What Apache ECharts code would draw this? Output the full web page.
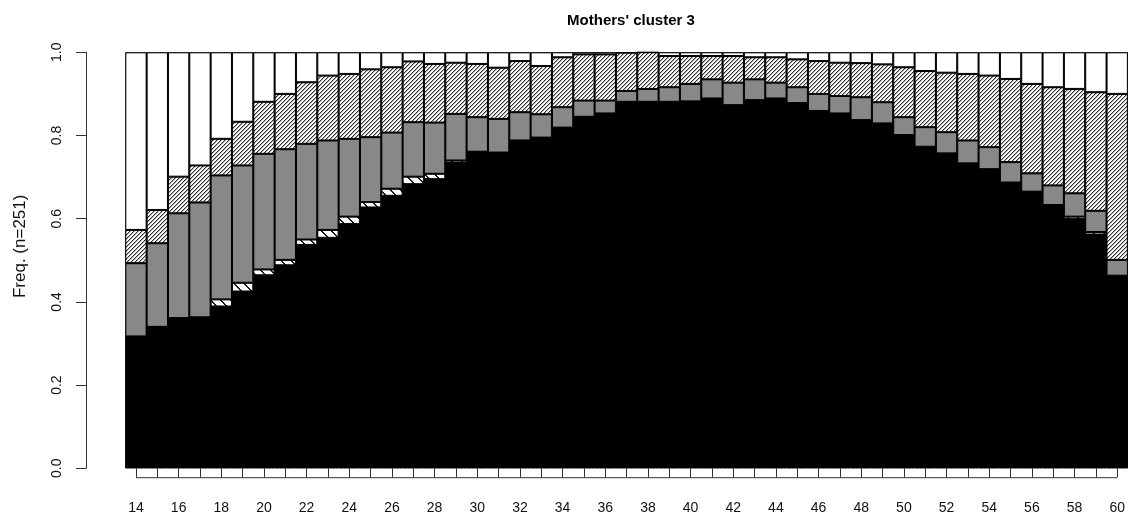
<!DOCTYPE html>
<html><head><meta charset="utf-8">
<script src="https://cdn.jsdelivr.net/npm/echarts@6/dist/echarts.min.js"></script>
<style>html,body{margin:0;padding:0;background:#fff}#c{width:1128px;height:521px}</style>
</head><body><div id="c"></div>
<script>
// Ages (x categories)
const ages = ['14','15','16','17','18','19','20','21','22','23','24','25','26','27','28','29','30',
  '31','32','33','34','35','36','37','38','39','40','41','42','43','44','45','46','47','48','49','50',
  '51','52','53','54','55','56','57','58','59','60'];
// Cumulative upper boundaries of each state
const blackTop = [0.317,0.340,0.361,0.363,0.389,0.425,0.464,0.488,0.537,0.554,0.587,0.627,0.655,0.683,0.695,0.735,0.759,
  0.759,0.788,0.793,0.817,0.845,0.853,0.881,0.881,0.881,0.882,0.889,0.873,0.885,0.889,0.878,0.859,0.853,0.837,0.829,0.801,
  0.773,0.757,0.733,0.719,0.687,0.662,0.633,0.599,0.562,0.461];
const lightTop = [0.317,0.340,0.361,0.363,0.406,0.446,0.478,0.501,0.550,0.573,0.605,0.640,0.672,0.701,0.708,0.740,0.761,
  0.759,0.788,0.795,0.819,0.845,0.853,0.881,0.881,0.881,0.882,0.889,0.873,0.885,0.889,0.878,0.859,0.853,0.837,0.829,0.801,
  0.773,0.757,0.733,0.719,0.687,0.665,0.633,0.605,0.568,0.463];
const greyTop = [0.493,0.541,0.613,0.639,0.704,0.728,0.756,0.767,0.780,0.788,0.792,0.796,0.807,0.832,0.831,0.852,0.844,
  0.840,0.856,0.851,0.868,0.884,0.884,0.907,0.912,0.916,0.924,0.935,0.927,0.935,0.927,0.916,0.900,0.895,0.892,0.880,0.844,
  0.820,0.808,0.788,0.772,0.736,0.709,0.680,0.661,0.619,0.501];
const hatchTop = [0.573,0.621,0.701,0.728,0.792,0.833,0.881,0.900,0.928,0.944,0.948,0.959,0.964,0.978,0.972,0.975,0.972,
  0.963,0.979,0.967,0.988,0.995,0.995,0.999,1.000,0.991,0.991,0.991,0.991,0.988,0.988,0.983,0.979,0.975,0.974,0.971,0.964,
  0.955,0.951,0.948,0.944,0.936,0.924,0.916,0.912,0.904,0.900];
const yTicks = ['0.0','0.2','0.4','0.6','0.8','1.0'];

function diff(top, base) { return top.map((v, i) => +(v - (base ? base[i] : 0)).toFixed(4)); }
const sBlack = diff(blackTop);
const sLight = diff(lightTop, blackTop);
const sGrey = diff(greyTop, lightTop);
const sHatch = diff(hatchTop, greyTop);
const sWhite = hatchTop.map(v => +(1 - v).toFixed(4));

function pattern(size, shade) {
  const c = document.createElement('canvas');
  c.width = c.height = size;
  const ctx = c.getContext('2d');
  const img = ctx.createImageData(size, size);
  for (let y = 0; y < size; y++) for (let x = 0; x < size; x++) {
    const g = shade(x, y);
    const k = (y * size + x) * 4;
    img.data[k] = img.data[k + 1] = img.data[k + 2] = g; img.data[k + 3] = 255;
  }
  ctx.putImageData(img, 0, 0);
  return c;
}
const densePat = pattern(4, (x, y) => { const d = (x + y) % 4; return d === 0 ? 50 : d === 1 ? 170 : 255; });
const sparsePat = pattern(10, (x, y) => { const d = ((x - y) % 10 + 10) % 10; return d < 2 ? 25 : 255; });

const chart = echarts.init(document.getElementById('c'), null, { renderer: 'canvas' });
const font = '"Liberation Sans", Arial, Helvetica, sans-serif';
function bar(name, data, color) {
  return { name, type: 'bar', stack: 'all', data, barCategoryGap: '0%', barGap: '0%',
    itemStyle: { color, borderColor: '#000', borderWidth: 1 },
    emphasis: { disabled: true }, silent: true, animation: false };
}
chart.setOption({
  animation: false,
  backgroundColor: '#fff',
  title: { text: "Mothers' cluster 3", left: 626, top: 8, textAlign: 'center',
    textStyle: { fontFamily: font, fontSize: 15, fontWeight: 'bold', color: '#000' } },
  grid: { left: 125.3, right: 0, top: 52.3, bottom: 52.7, show: true, backgroundColor: '#000', borderWidth: 0 },
  xAxis: { type: 'category', data: ages, offset: 9.4,
    axisLine: { show: false },
    axisTick: { show: true, interval: 0, alignWithLabel: true, length: 9, lineStyle: { color: '#333' } },
    axisLabel: { interval: 1, margin: 23, fontFamily: font, fontSize: 14, color: '#111' } },
  yAxis: { type: 'value', min: 0, max: 1, interval: 0.2, offset: 39.3,
    splitLine: { show: false },
    axisLine: { show: true, lineStyle: { color: '#333' } },
    axisTick: { show: true, length: 10, lineStyle: { color: '#333' } },
    axisLabel: { rotate: 90, margin: 22, fontFamily: font, fontSize: 14, color: '#111',
      formatter: v => yTicks[Math.round(v / 0.2)] } },
  series: [
    bar('s1', sBlack, '#000'),
    bar('s2', sLight, { image: sparsePat, repeat: 'repeat' }),
    bar('s3', sGrey, '#888'),
    bar('s4', sHatch, { image: densePat, repeat: 'repeat' }),
    bar('s5', sWhite, '#fff')
  ]
});
// R-style x axis line spanning first to last tick, and y axis title
const x0 = chart.convertToPixel({ xAxisIndex: 0 }, ages[0]);
const x1 = chart.convertToPixel({ xAxisIndex: 0 }, ages[ages.length - 1]);
const yb = chart.convertToPixel({ yAxisIndex: 0 }, 0) + 9.4;
const ym = (chart.convertToPixel({ yAxisIndex: 0 }, 0) + chart.convertToPixel({ yAxisIndex: 0 }, 1)) / 2 - 14;
chart.setOption({ graphic: [
  { type: 'line', shape: { x1: x0, y1: yb, x2: x1, y2: yb }, style: { stroke: '#333', lineWidth: 1 }, silent: true },
  { type: 'text', x: 20, y: ym, rotation: Math.PI / 2, silent: true,
    style: { text: 'Freq. (n=251)', fontFamily: font, fontSize: 17, fill: '#111', align: 'center', verticalAlign: 'middle' } }
] });
</script></body></html>
